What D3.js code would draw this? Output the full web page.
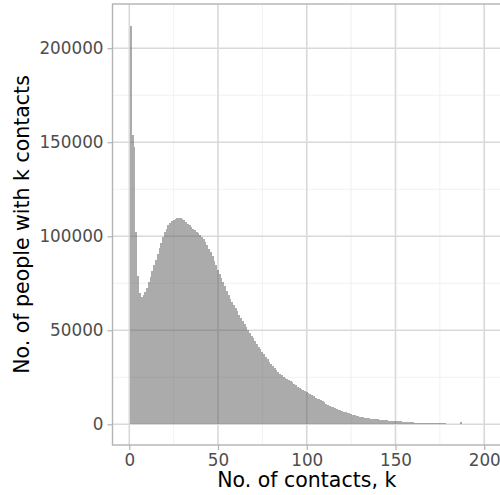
<!DOCTYPE html>
<html><head><meta charset="utf-8">
<script src="https://cdn.jsdelivr.net/npm/d3@7"></script>
<style>html,body{margin:0;padding:0;background:#fff;}svg{display:block;font-family:"DejaVu Sans",sans-serif;}</style>
</head><body>
<script>
// number of contacts k (bin centres, width 1)
const contacts = d3.range(1, 188);
// number of people with k contacts
const people = [
 212000,154000,147500,102000,79000,70000,67500,68500,70500,72500,
 75500,78500,81500,84500,87500,90500,93500,96500,99500,102000,
 104000,105800,107000,108000,108800,109300,109600,109800,109700,109300,
 108600,107600,106600,105800,104900,104000,103300,102500,101700,100700,
 99700,98500,97000,95300,93400,91500,89300,87000,84700,82300,
 80000,77600,75800,73400,71000,68700,66500,64800,63200,61600,
 60000,58300,56400,54800,53200,51600,50000,48700,47200,45700,
 44200,42700,41200,39800,38500,37200,35900,34600,33300,32000,
 31000,30000,29000,28000,27000,26200,25400,24600,23900,23800,
 23100,22300,21500,20700,20000,19300,18700,18100,17500,17000,
 16500,16000,15400,14800,14200,13700,13200,12700,12200,11600,
 11000,10400,9900,9400,9000,8600,8200,7800,7400,7000,
 6700,6400,6100,5800,5500,5200,4900,4600,4300,4100,
 3900,3700,3500,3350,3200,3050,2900,2800,2700,2600,
 2500,2400,2300,2200,2100,2000,1950,1880,1800,1750,
 1680,1600,1520,1450,1380,1300,1200,1100,1050,1000,
 950,900,860,820,780,740,710,690,660,630,
 600,580,560,540,510,490,470,450,430,410,
 390,370,350,330,300,250,1200
];
const xMajor = [0, 50, 100, 150, 200];
const xMinor = [25, 75, 125, 175];
const yMajor = [0, 50000, 100000, 150000, 200000];
const yMinor = [25000, 75000, 125000, 175000];
const xTitle = "No. of contacts, k";
const yTitle = "No. of people with k contacts";

const W = 500, H = 495;
const P = {l: 112.5, r: 501, t: 4, b: 445};
const svg = d3.select("body").append("svg").attr("width", W).attr("height", H);

const x = d3.scaleLinear().domain([-9.45, 209.45]).range([P.l, P.r]);
const y = d3.scaleLinear().domain([-11000, 223500]).range([P.b, P.t]);

const g = svg.append("g");
// minor grid
g.selectAll(".xmin").data(xMinor).join("line")
  .attr("x1", d => x(d)).attr("x2", d => x(d)).attr("y1", P.t).attr("y2", P.b)
  .attr("stroke", "#ededed").attr("stroke-width", 0.8);
g.selectAll(".ymin").data(yMinor).join("line")
  .attr("y1", d => y(d)).attr("y2", d => y(d)).attr("x1", P.l).attr("x2", P.r)
  .attr("stroke", "#ededed").attr("stroke-width", 0.8);
// major grid
g.selectAll(".xmaj").data(xMajor).join("line")
  .attr("x1", d => x(d)).attr("x2", d => x(d)).attr("y1", P.t).attr("y2", P.b)
  .attr("stroke", "#d9d9d9").attr("stroke-width", 1.6);
g.selectAll(".ymaj").data(yMajor).join("line")
  .attr("y1", d => y(d)).attr("y2", d => y(d)).attr("x1", P.l).attr("x2", P.r)
  .attr("stroke", "#d9d9d9").attr("stroke-width", 1.6);

// bars
const bars = svg.append("g").attr("opacity", 0.5);
bars.selectAll("rect").data(contacts.map((k, i) => ({k, v: people[i]}))).join("rect")
  .attr("x", d => x(d.k - 0.5))
  .attr("width", d => x(d.k + 0.5) - x(d.k - 0.5))
  .attr("y", d => y(d.v))
  .attr("height", d => y(0) - y(d.v))
  .attr("fill", "#595959")
  .attr("shape-rendering", "crispEdges");

// panel border
svg.append("rect").attr("x", P.l).attr("y", P.t).attr("width", P.r - P.l).attr("height", P.b - P.t)
  .attr("fill", "none").attr("stroke", "#b3b3b3").attr("stroke-width", 1.4);

// axes
const xAxis = d3.axisBottom(x).tickValues(xMajor).tickSize(5).tickPadding(4);
const yAxis = d3.axisLeft(y).tickValues(yMajor).tickSize(5).tickPadding(4).tickFormat(d3.format("d"));
const gx = svg.append("g").attr("transform", `translate(0,${P.b})`).call(xAxis);
const gy = svg.append("g").attr("transform", `translate(${P.l},0)`).call(yAxis);
[gx, gy].forEach(a => {
  a.select(".domain").remove();
  a.selectAll(".tick line").attr("stroke", "#b3b3b3").attr("stroke-width", 1.2);
  a.selectAll(".tick text").attr("fill", "#4d4d4d").attr("font-size", 16.8).attr("font-family", "DejaVu Sans");
});
gx.selectAll(".tick text").attr("dy", null).attr("y", 20.5);

svg.append("text").attr("x", (P.l + P.r) / 2).attr("y", 487)
  .attr("text-anchor", "middle").attr("font-size", 20.5).attr("fill", "#000").text(xTitle);
svg.append("text").attr("transform", `translate(28.5,${(P.t + P.b) / 2}) rotate(-90)`)
  .attr("text-anchor", "middle").attr("font-size", 20.5).attr("fill", "#000").text(yTitle);
</script>
</body></html>
